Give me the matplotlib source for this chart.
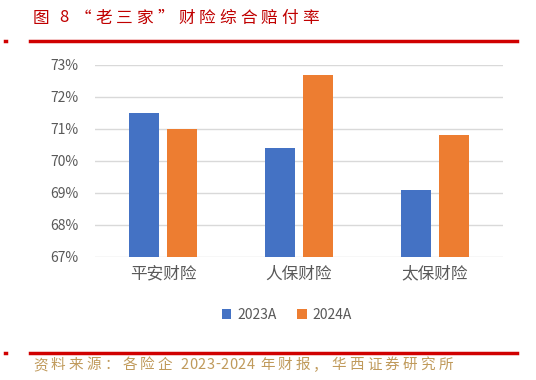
import numpy as np
import matplotlib.pyplot as plt
from matplotlib.lines import Line2D
from matplotlib.ticker import FuncFormatter

plt.rcParams['font.family'] = ['Noto Sans CJK SC', 'DejaVu Sans']

# 数据
categories = ['平安财险', '人保财险', '太保财险']
series_names = ['2023A', '2024A']
ratio_2023 = [71.5, 70.4, 69.1]
ratio_2024 = [71.0, 72.7, 70.8]
y_ticks = [67, 68, 69, 70, 71, 72, 73]

title = '图 8 “老三家”财险综合赔付率'
source = '资料来源：各险企 2023-2024 年财报，华西证券研究所'

W, H = 536, 380
fig = plt.figure(figsize=(W / 100, H / 100), dpi=100)
renderer = fig.canvas.get_renderer()


def spaced_text(x0, y0, s, spacing, **kw):
    # 逐字绘制，中文字符加字间距
    x = x0
    for ch in s:
        t = fig.text(x / W, 1 - y0 / H, ch, va='center', ha='left', **kw)
        w = t.get_window_extent(renderer).width
        if ch == ' ':
            x += w + spacing * 0.5
        elif ord(ch) > 127:
            x += w + spacing
        else:
            x += w + 0.5


spaced_text(33, 18, title, 4.0, color='#c00000', fontsize=12)
spaced_text(33, 365, source, 3.2, color='#c09a5b', fontsize=10.5)

for yy in (41, 353):
    fig.add_artist(Line2D([30 / W, 517 / W], [1 - yy / H, 1 - yy / H],
                          color='#d00000', linewidth=2.5, transform=fig.transFigure))
    fig.add_artist(Line2D([5 / W, 6 / W], [1 - yy / H, 1 - yy / H],
                          color='#d00000', linewidth=2.5, transform=fig.transFigure))

# 主图
ax = fig.add_axes([95 / W, 1 - 257 / H, 408 / W, 192 / H])
x = np.arange(len(categories))
bw = 0.22
ax.bar(x - 0.141, np.array(ratio_2023) - 67, bw, bottom=67, color='#4472c4', label=series_names[0], zorder=3)
ax.bar(x + 0.141, np.array(ratio_2024) - 67, bw, bottom=67, color='#ed7d31', label=series_names[1], zorder=3)

ax.set_xlim(-0.5, 2.5)
ax.set_ylim(67, 73)
ax.set_yticks(y_ticks)
ax.yaxis.set_major_formatter(FuncFormatter(lambda v, p: f'{v:.0f}%'))
ax.grid(axis='y', color='#d9d9d9', linewidth=1, zorder=0)
for s in ax.spines.values():
    s.set_visible(False)
ax.tick_params(axis='y', length=0, labelsize=10, labelcolor='#595959', pad=12)
ax.set_xticks(x)
ax.set_xticklabels(categories)
ax.tick_params(axis='x', length=0, labelsize=12, labelcolor='#595959', pad=6)

ax.legend(loc='upper center', bbox_to_anchor=(0.47, -0.2), ncol=2, frameon=False,
          fontsize=10, labelcolor='#595959', handlelength=0.7, handleheight=0.7,
          handletextpad=0.4, columnspacing=1.5)

fig.savefig('out.png', dpi=100)
